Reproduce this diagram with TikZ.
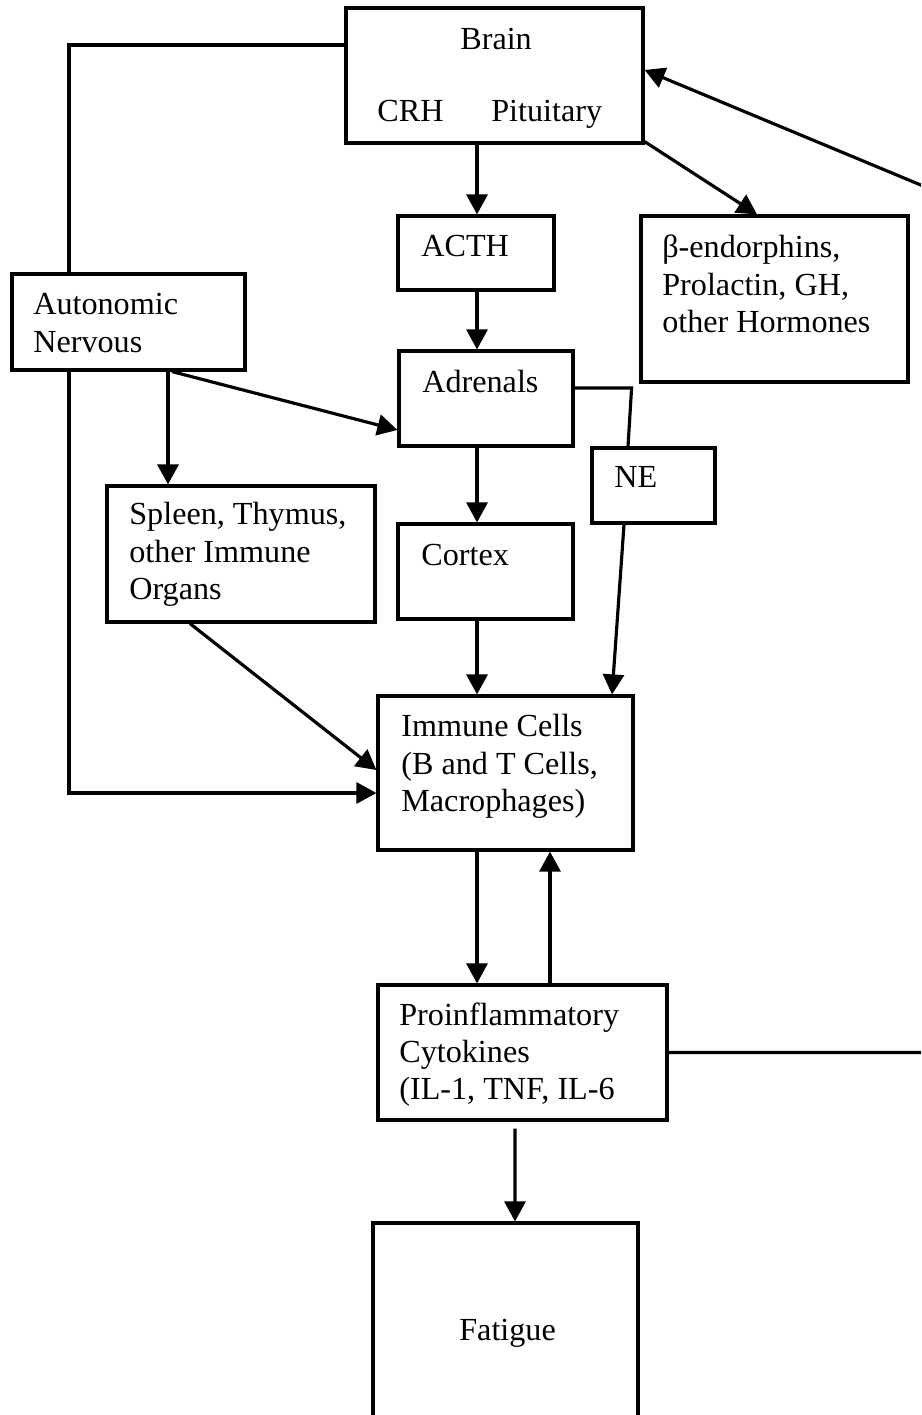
\documentclass[tikz,border=0pt]{standalone}
\usepackage{fontspec}
\setmainfont{Liberation Serif}
\usetikzlibrary{arrows.meta}

\tikzset{
  box/.style={draw, line width=1.8pt, inner sep=0pt},
  txt/.style={font=\fontsize{18.3pt}{21.3pt}\selectfont, inner sep=0pt, align=left},
  arr/.style={line width=1.8pt, -{Triangle[length=0.40cm, width=0.42cm]}},
  wire/.style={line width=1.8pt}
}

\begin{document}
\begin{tikzpicture}
\useasboundingbox (0,0) rectangle (18.42,-28.30);
\clip (0,0) rectangle (18.42,-28.30);

% boxes
\node[box, minimum width=5.94cm, minimum height=2.70cm] (brain) at (9.89,-1.51) {};
\node[box, minimum width=3.12cm, minimum height=1.48cm] (acth) at (9.52,-5.06) {};
\node[box, minimum width=5.34cm, minimum height=3.32cm] (horm) at (15.49,-5.98) {};
\node[box, minimum width=4.66cm, minimum height=1.92cm] (auto) at (2.57,-6.44) {};
\node[box, minimum width=3.48cm, minimum height=1.90cm] (adr) at (9.72,-7.97) {};
\node[box, minimum width=2.46cm, minimum height=1.50cm] (ne) at (13.07,-9.71) {};
\node[box, minimum width=5.36cm, minimum height=2.72cm] (spleen) at (4.82,-11.08) {};
\node[box, minimum width=3.50cm, minimum height=1.90cm] (cortex) at (9.71,-11.43) {};
\node[box, minimum width=5.10cm, minimum height=3.08cm] (imm) at (10.11,-15.46) {};
\node[box, minimum width=5.78cm, minimum height=2.70cm] (cyto) at (10.45,-21.05) {};
\node[box, minimum width=5.30cm, minimum height=4.54cm] (fat) at (10.11,-26.73) {};

% texts
\node[txt, anchor=base west] (tbrain) at (9.20,-1.00) {Brain};
\node[txt, anchor=base west] (tcrh) at (7.54,-2.44) {CRH};
\node[txt, anchor=base west] (tpit) at (9.82,-2.44) {Pituitary};
\node[txt, anchor=base west] (tacth) at (8.42,-5.14) {ACTH};
\node[txt, anchor=north west] (thorm) at (13.24,-4.70) {β-endorphins,\\Prolactin, GH,\\other Hormones};
\node[txt, anchor=north west] (tauto) at (0.66,-5.86) {Autonomic\\Nervous};
\node[txt, anchor=base west] (tadr) at (8.44,-7.84) {Adrenals};
\node[txt, anchor=base west] (tne) at (12.28,-9.74) {NE};
\node[txt, anchor=north west] (tspleen) at (2.58,-10.04) {Spleen, Thymus,\\other Immune\\Organs};
\node[txt, anchor=base west] (tcortex) at (8.42,-11.30) {Cortex};
\node[txt, anchor=north west] (timm) at (8.02,-14.28) {Immune Cells\\(B and T Cells,\\Macrophages)};
\node[txt, anchor=north west] (tcyto) at (7.98,-20.04) {Proinflammatory\\Cytokines\\(IL-1, TNF, IL-6};
\node[txt, anchor=base west] (tfat) at (9.18,-26.80) {Fatigue};

% helper lines
\coordinate (spine) at (9.54,0);
\coordinate (back) at (11.00,0);
\coordinate (loop) at (18.80,-3.86);

% connectors
\draw[wire] ([yshift=0.61cm]brain.west) -| ([xshift=-1.19cm]auto.north);
\draw[arr] ([xshift=-1.19cm]auto.south) |- ([yshift=-0.40cm]imm.west);
\draw[arr] (brain.south -| spine) -- (acth.north -| spine);
\draw[arr] ([yshift=0.06cm]brain.south east) -- ([xshift=-0.35cm]horm.north);
\draw[arr] (cyto.east) -| (loop) -- ([yshift=0.11cm]brain.east);
\draw[arr] (acth.south -| spine) -- (adr.north -| spine);
\draw[arr] ([xshift=0.79cm]auto.south) -- ([xshift=0.79cm]auto.south |- spleen.north);
\draw[arr] ([xshift=0.87cm]auto.south) -- ([yshift=-0.63cm]adr.west);
\draw[wire] ([yshift=0.21cm]adr.east) -- ++(1.14,0) -- ([xshift=-0.51cm]ne.north);
\draw[arr] (adr.south -| spine) -- (cortex.north -| spine);
\draw[arr] ([xshift=-0.59cm]ne.south) -- ([xshift=2.13cm]imm.north);
\draw[arr] (cortex.south -| spine) -- (imm.north -| spine);
\draw[arr] ([xshift=-1.02cm]spleen.south) -- ([yshift=0.06cm]imm.west);
\draw[arr] (imm.south -| spine) -- (cyto.north -| spine);
\draw[arr] (cyto.north -| back) -- (imm.south -| back);
\draw[arr] ([xshift=-0.15cm,yshift=-0.14cm]cyto.south) -- ([xshift=0.19cm]fat.north);
\end{tikzpicture}
\end{document}
